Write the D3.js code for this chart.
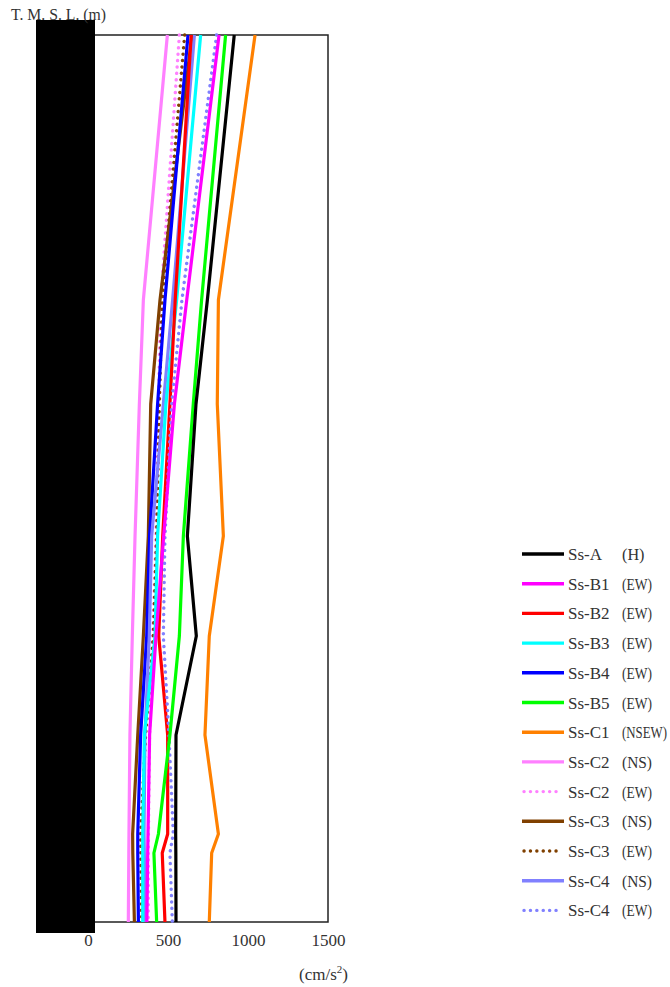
<!DOCTYPE html>
<html>
<head>
<meta charset="utf-8">
<script src="https://cdn.jsdelivr.net/npm/d3@7"></script>
<style>
  html, body { margin: 0; padding: 0; background: #fff; }
  svg { display: block; }
  text { font-family: "Liberation Serif", "DejaVu Serif", serif; fill: #333; }
</style>
</head>
<body>
<svg id="chart" width="670" height="987"></svg>
<script>
// Elevation levels (T.M.S.L., m) at which the profiles are given (top to bottom)
const elevations = [40.0, 13.5, 3.1, -10.1, -20.1, -30.0, -39.9, -41.8, -48.7];

// Series names, suffixes, colors, dash
const seriesNames = ["Ss-A", "Ss-B1", "Ss-B2", "Ss-B3", "Ss-B4", "Ss-B5", "Ss-C1", "Ss-C2", "Ss-C2", "Ss-C3", "Ss-C3", "Ss-C4", "Ss-C4"];
const seriesComps = ["(H)", "(EW)", "(EW)", "(EW)", "(EW)", "(EW)", "(NSEW)", "(NS)", "(EW)", "(NS)", "(EW)", "(NS)", "(EW)"];
const seriesColors = ["#000000", "#ff00ff", "#ff0000", "#00ffff", "#0000ff", "#00ff00", "#ff8000", "#ff80ff", "#ff80ff", "#804000", "#804000", "#8080ff", "#8080ff"];
const seriesDotted = [false, false, false, false, false, false, false, false, true, false, true, false, true];

// Max acceleration (cm/s2) at each elevation level
const ssA   = [914, 746, 675, 621, 677, 550, 548, 549, 550];
const ssB1  = [819, 617, 540, 473, 425, 385, 375, 373, 368];
const ssB2  = [645, 545, 512, 467, 442, 498, 498, 464, 481];
const ssB3  = [704, 554, 487, 435, 419, 352, 342, 342, 342];
const ssB4  = [625, 481, 435, 385, 367, 329, 311, 311, 315];
const ssB5  = [860, 710, 658, 596, 571, 512, 440, 412, 429];
const ssC1  = [1044, 815, 808, 846, 758, 731, 815, 773, 758];
const ssC2ns = [496, 346, 321, 294, 277, 262, 256, 255, 252];
const ssC2ew = [571, 455, 440, 425, 405, 385, 378, 377, 377];
const ssC3ns = [650, 450, 392, 377, 346, 311, 279, 280, 290];
const ssC3ew = [604, 464, 446, 429, 408, 360, 329, 330, 335];
const ssC4ns = [665, 529, 471, 398, 383, 356, 350, 352, 358];
const ssC4ew = [804, 587, 523, 481, 471, 506, 533, 512, 527];
const seriesValues = [ssA, ssB1, ssB2, ssB3, ssB4, ssB5, ssC1, ssC2ns, ssC2ew, ssC3ns, ssC3ew, ssC4ns, ssC4ew];

const xTicks = [0, 500, 1000, 1500];

const svg = d3.select("#chart");

const x = d3.scaleLinear().domain([0, 1500]).range([88, 328]);
const y = d3.scaleLinear().domain([-48.7, 40.0]).range([922, 35]);

// frame
svg.append("rect")
  .attr("x", x(0)).attr("y", y(40))
  .attr("width", x(1500) - x(0)).attr("height", y(-48.7) - y(40))
  .attr("fill", "none").attr("stroke", "#222").attr("stroke-width", 1.5);

// x axis labels
const xAxis = d3.axisBottom(x).tickValues(xTicks).tickFormat(d3.format("d")).tickSize(0).tickPadding(12);
const gx = svg.append("g").attr("transform", `translate(0,${y(-48.7)})`).call(xAxis);
gx.select(".domain").remove();
gx.selectAll("text")
  .attr("font-size", 17)
  .attr("font-family", "Liberation Serif, DejaVu Serif, serif")
  .attr("fill", "#333");

// y axis (hidden behind the masking block)
const gy = svg.append("g").attr("transform", `translate(${x(0)},0)`)
  .call(d3.axisLeft(y).tickValues(elevations).tickSize(4));
gy.select(".domain").remove();

// lines
const line = d3.line()
  .x(d => x(d.v))
  .y(d => y(d.e));

const order = [7, 8, 9, 10, 4, 11, 3, 2, 12, 1, 5, 0, 6];
order.forEach(i => {
  const pts = seriesValues[i].map((v, k) => ({ v: v, e: elevations[k] }));
  const p = svg.append("path")
    .datum(pts)
    .attr("d", line)
    .attr("fill", "none")
    .attr("stroke", seriesColors[i])
    .attr("stroke-width", 3.2)
    .attr("stroke-linejoin", "round");
  if (seriesDotted[i]) {
    p.attr("stroke-dasharray", "0.1 6.3").attr("stroke-linecap", "round").attr("stroke-width", 3.4);
  }
});

// masking block over y-axis labels
svg.append("rect")
  .attr("x", 36).attr("y", 20).attr("width", 59).attr("height", 913)
  .attr("fill", "#000");

// title
svg.append("text")
  .attr("x", 11).attr("y", 20)
  .attr("font-size", 17)
  .attr("textLength", 95).attr("lengthAdjust", "spacingAndGlyphs")
  .text("T. M. S. L. (m)");

// unit
const unit = svg.append("text")
  .attr("x", 299).attr("y", 980)
  .attr("font-size", 17);
unit.append("tspan").text("(cm/s");
unit.append("tspan").attr("dy", -7).attr("font-size", 11).text("2");
unit.append("tspan").attr("dy", 7).text(")");

// legend (text horizontally condensed with a scale transform, like half-width glyphs)
function condensedText(g, str, x0, y0, target) {
  const t = g.append("text").attr("font-size", 17).text(str);
  const w = t.node().getComputedTextLength();
  const sx = Math.min(1, target / w);
  t.attr("transform", `translate(${x0},${y0}) scale(${sx},1)`);
  return t;
}
const lg = svg.append("g");
seriesNames.forEach((name, i) => {
  const yy = 554 + i * 29.7;
  const ln = lg.append("line")
    .attr("x1", 522).attr("x2", 564)
    .attr("y1", yy).attr("y2", yy)
    .attr("stroke", seriesColors[i])
    .attr("stroke-width", 3.4);
  if (seriesDotted[i]) {
    ln.attr("x1", 524).attr("x2", 560)
      .attr("stroke-dasharray", "0.1 6.3").attr("stroke-linecap", "round");
  }
  condensedText(lg, name, 568, yy + 6, name.length * 8.7);
  condensedText(lg, seriesComps[i], 622, yy + 6, seriesComps[i].length * 7.5);
});
</script>
</body>
</html>
